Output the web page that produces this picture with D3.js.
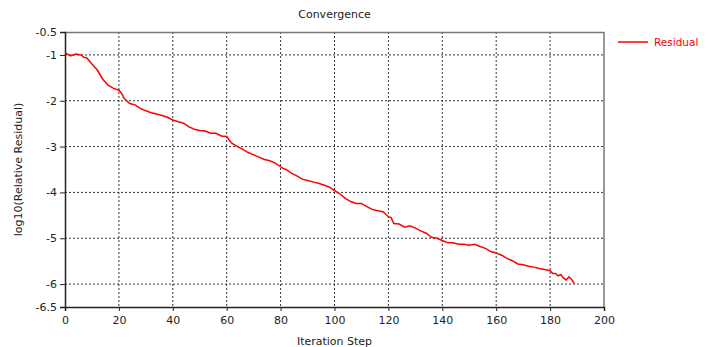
<!DOCTYPE html>
<html>
<head>
<meta charset="utf-8">
<script src="https://cdn.jsdelivr.net/npm/d3@7"></script>
<style>
  body { margin: 0; background: #fff; }
  svg { font-family: "DejaVu Sans", sans-serif; }
</style>
</head>
<body>
<div id="chart"></div>
<script>
"use strict";

// iteration steps and log10 residual
const steps = [0, 2, 4, 6, 7, 8, 10, 12, 14, 16, 18, 20, 21, 22, 24, 26, 28, 30, 32, 34, 36, 38, 40, 42, 44, 46, 48, 50, 52, 54, 56, 58, 60, 61, 62, 64, 66, 68, 70, 72, 74, 76, 78, 80, 81, 82, 84, 86, 88, 90, 92, 94, 96, 98, 100, 102, 104, 106, 108, 110, 112, 114, 116, 118, 120, 121, 122, 124, 126, 128, 130, 132, 134, 136, 138, 140, 142, 144, 146, 148, 150, 152, 154, 156, 158, 160, 162, 164, 166, 168, 170, 172, 174, 176, 178, 180, 181, 182, 183, 184, 185, 186, 187, 188, 189];
const residual = [-0.95, -1.02, -0.98, -1.0, -1.05, -1.06, -1.2, -1.33, -1.53, -1.66, -1.73, -1.77, -1.84, -1.95, -2.06, -2.09, -2.17, -2.22, -2.26, -2.29, -2.32, -2.36, -2.42, -2.46, -2.49, -2.57, -2.62, -2.65, -2.66, -2.71, -2.71, -2.77, -2.78, -2.86, -2.93, -3.0, -3.06, -3.13, -3.18, -3.23, -3.28, -3.31, -3.36, -3.44, -3.48, -3.5, -3.58, -3.64, -3.71, -3.74, -3.77, -3.8, -3.84, -3.88, -3.96, -4.03, -4.13, -4.2, -4.24, -4.24, -4.31, -4.37, -4.4, -4.42, -4.53, -4.55, -4.68, -4.69, -4.76, -4.73, -4.78, -4.84, -4.89, -4.98, -5.0, -5.05, -5.1, -5.1, -5.13, -5.13, -5.15, -5.13, -5.18, -5.22, -5.29, -5.32, -5.37, -5.44, -5.49, -5.56, -5.58, -5.61, -5.63, -5.66, -5.68, -5.71, -5.77, -5.77, -5.82, -5.79, -5.87, -5.91, -5.84, -5.9, -5.99];
const xTicks = [0, 20, 40, 60, 80, 100, 120, 140, 160, 180, 200];
const yTicks = [-0.5, -1, -2, -3, -4, -5, -6, -6.5];
const yGrid = [-1, -2, -3, -4, -5, -6];
const xGrid = [20, 40, 60, 80, 100, 120, 140, 160, 180];

const width = 714, height = 347;
const margin = { left: 65, right: 110, top: 32, bottom: 40 };
const plotW = width - margin.left - margin.right;
const plotH = height - margin.top - margin.bottom;

const svg = d3.select("#chart").append("svg")
    .attr("width", width)
    .attr("height", height);

const x = d3.scaleLinear().domain([0, 200]).range([0, plotW]);
const y = d3.scaleLinear().domain([-6.5, -0.5]).range([plotH, 0]);

const g = svg.append("g")
    .attr("transform", `translate(${margin.left},${margin.top})`);

// dotted grid
g.selectAll(".hgrid").data(yGrid).enter().append("line")
    .attr("x1", 0).attr("x2", plotW)
    .attr("y1", d => y(d)).attr("y2", d => y(d))
    .attr("stroke", "#333").attr("stroke-dasharray", "2,2");
g.selectAll(".vgrid").data(xGrid).enter().append("line")
    .attr("y1", 0).attr("y2", plotH)
    .attr("x1", d => x(d)).attr("x2", d => x(d))
    .attr("stroke", "#333").attr("stroke-dasharray", "2,2");

// top and right border
g.append("path")
    .attr("d", `M0,0.5H${plotW}V${plotH}`)
    .attr("fill", "none").attr("stroke", "#777").attr("stroke-width", 1.5);

// axes
const xAxis = g.append("g")
    .attr("transform", `translate(0,${plotH})`)
    .call(d3.axisBottom(x).tickValues(xTicks).tickSize(4).tickPadding(5));
const yAxis = g.append("g")
    .call(d3.axisLeft(y).tickValues(yTicks).tickFormat(d => d).tickSize(5).tickPadding(3));

[xAxis, yAxis].forEach(a => {
    a.select(".domain").attr("stroke", "#222").attr("stroke-width", 1.5);
    a.selectAll(".tick line").attr("stroke", "#222");
    a.selectAll("text").attr("fill", "#222").style("font-size", "11px")
        .style("font-family", "'DejaVu Sans', sans-serif");
});

// residual line
const pts = steps.map((s, i) => [s, residual[i]]);
g.append("path")
    .datum(pts)
    .attr("fill", "none")
    .attr("stroke", "#ff0000")
    .attr("stroke-width", 1.5)
    .attr("d", d3.line().x(d => x(d[0])).y(d => y(d[1])));

// titles
svg.append("text")
    .attr("x", margin.left + plotW / 2).attr("y", 18)
    .attr("text-anchor", "middle")
    .style("font-size", "11px").attr("fill", "#222")
    .text("Convergence");
svg.append("text")
    .attr("x", margin.left + plotW / 2).attr("y", 345)
    .attr("text-anchor", "middle")
    .style("font-size", "11px").attr("fill", "#222")
    .text("Iteration Step");
svg.append("text")
    .attr("transform", `translate(22,${margin.top + plotH / 2}) rotate(-90)`)
    .attr("text-anchor", "middle")
    .style("font-size", "11px").attr("fill", "#222")
    .text("log10(Relative Residual)");

// legend
svg.append("line")
    .attr("x1", 618).attr("x2", 648).attr("y1", 42).attr("y2", 42)
    .attr("stroke", "#ff0000").attr("stroke-width", 1.5);
svg.append("text")
    .attr("x", 654).attr("y", 46)
    .style("font-size", "10.5px").attr("fill", "#ff0000")
    .text("Residual");
</script>
</body>
</html>
